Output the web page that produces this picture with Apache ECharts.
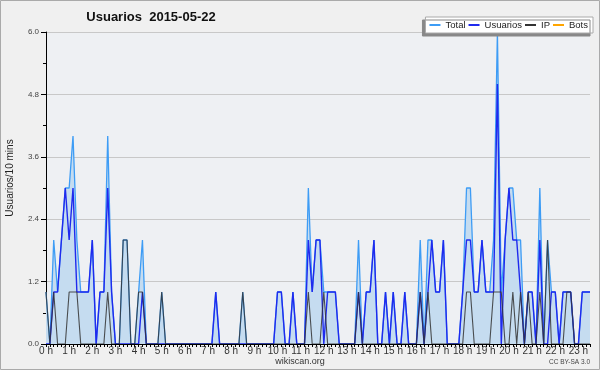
<!DOCTYPE html>
<html>
<head>
<meta charset="utf-8">
<script src="https://cdn.jsdelivr.net/npm/echarts@6/dist/echarts.min.js"></script>
<style>
  html, body { margin: 0; padding: 0; background: #f0f0f0; }
  #chart { width: 600px; height: 370px; }
</style>
</head>
<body>
<div id="chart"></div>
<script>
// libellés des heures (une tranche = 10 min)
const hourLabels = ['0 h','1 h','2 h','3 h','4 h','5 h','6 h','7 h','8 h','9 h','10 h','11 h',
    '12 h','13 h','14 h','15 h','16 h','17 h','18 h','19 h','20 h','21 h','22 h','23 h'];

const total = [
    1,0,2,1,2,3,3,4,2,1,1,1,
    2,0,1,1,4,1,0,0,2,2,0,0,
    1,2,0,0,0,0,1,0,0,0,0,0,
    0,0,0,0,0,0,0,0,1,0,0,0,
    0,0,0,1,0,0,0,0,0,0,0,0,
    1,1,0,0,1,0,0,0,3,1,2,2,
    1,1,1,1,0,0,0,0,0,2,0,1,
    1,2,0,0,1,0,1,0,0,1,0,0,
    0,2,0,2,2,1,1,2,0,0,0,0,
    1,3,3,1,1,2,1,1,2,6,1,2,
    3,3,2,2,0,1,1,0,3,0,2,1,
    1,0,1,1,1,0,0,1,1,1
];
const usuarios = [
    0,0,1,1,2,3,2,3,1,1,1,1,
    2,0,1,1,3,1,0,0,0,0,0,0,
    0,1,0,0,0,0,0,0,0,0,0,0,
    0,0,0,0,0,0,0,0,1,0,0,0,
    0,0,0,0,0,0,0,0,0,0,0,0,
    1,1,0,0,1,0,0,0,2,1,2,2,
    0,1,1,1,0,0,0,0,0,1,0,1,
    1,2,0,0,1,0,1,0,0,1,0,0,
    0,1,0,1,2,1,1,2,0,0,0,0,
    1,2,2,1,1,2,1,1,1,5,0,2,
    3,2,2,1,0,1,1,0,2,0,0,1,
    1,0,1,1,1,0,0,1,1,1
];
const ip = [
    1,0,1,0,0,0,1,1,1,0,0,0,
    0,0,0,0,1,0,0,0,2,2,0,0,
    1,1,0,0,0,0,1,0,0,0,0,0,
    0,0,0,0,0,0,0,0,0,0,0,0,
    0,0,0,1,0,0,0,0,0,0,0,0,
    0,0,0,0,0,0,0,0,1,0,0,0,
    1,0,0,0,0,0,0,0,0,1,0,0,
    0,0,0,0,0,0,0,0,0,0,0,0,
    0,1,0,1,0,0,0,0,0,0,0,0,
    0,1,1,0,0,0,0,0,1,1,1,0,
    0,1,0,1,0,1,0,0,1,0,2,0,
    0,0,0,1,1,0,0,0,0,0
];
const bots = [];

// tranches de 10 minutes
const slots = [];
for (let h = 0; h < 24; h++) {
    for (let m = 0; m < 6; m++) {
        slots.push(h + ':' + m + '0');
    }
}
const categories = slots.slice(0, total.length);

const FONT = 'Liberation Sans';

const option = {
    backgroundColor: '#f0f0f0',
    animation: false,
    grid: {
        left: 46,
        right: 10,
        top: 32,
        bottom: 26,
        show: true,
        backgroundColor: '#eef0f3',
        borderWidth: 0,
        outerBoundsMode: 'none'
    },
    legend: {
        right: 7,
        top: 17,
        padding: [2, 5, 2, 4],
        itemGap: 3,
        itemWidth: 11,
        itemHeight: 2,
        icon: 'rect',
        backgroundColor: '#fff',
        borderColor: '#aaa',
        borderWidth: 1,
        shadowColor: '#888',
        shadowBlur: 0,
        shadowOffsetX: -3,
        shadowOffsetY: 3,
        textStyle: {
            fontFamily: FONT,
            fontSize: 9.5,
            lineHeight: 12,
            color: '#222',
            padding: [0, 0, 0, 0]
        },
        data: ['Total', 'Usuarios', 'IP', 'Bots']
    },
    xAxis: {
        type: 'category',
        boundaryGap: false,
        data: categories,
        z: 5,
        axisLine: {
            lineStyle: { color: '#000', width: 1 }
        },
        axisTick: {
            interval: 0,
            length: 3,
            lineStyle: { color: '#000' }
        },
        axisLabel: {
            interval: 5,
            margin: 2,
            fontFamily: FONT,
            fontSize: 10,
            color: '#333',
            formatter: function (v, idx) {
                return hourLabels[idx / 6];
            }
        },
        splitLine: { show: false }
    },
    yAxis: {
        type: 'value',
        min: 0,
        max: 6,
        interval: 1.2,
        axisLine: {
            show: true,
            lineStyle: { color: '#000', width: 1 }
        },
        axisTick: {
            show: true,
            length: 5,
            lineStyle: { color: '#000' }
        },
        minorTick: {
            show: true,
            splitNumber: 2,
            length: 3,
            lineStyle: { color: '#000' }
        },
        axisLabel: {
            margin: 7,
            fontFamily: FONT,
            fontSize: 8,
            color: '#444',
            formatter: function (v) { return v.toFixed(1); }
        },
        splitLine: {
            lineStyle: { color: '#c8c8c8', width: 1 }
        }
    },
    series: [
        {
            name: 'Total',
            type: 'line',
            data: total,
            symbol: 'none',
            color: '#3d9cf5',
            lineStyle: { width: 1.3, color: '#3d9cf5' },
            areaStyle: { color: '#c5dcf0', opacity: 1 }
        },
        {
            name: 'Usuarios',
            type: 'line',
            data: usuarios,
            symbol: 'none',
            color: '#1f2aee',
            lineStyle: { width: 1.4, color: '#1f2aee' }
        },
        {
            name: 'IP',
            type: 'line',
            data: ip,
            symbol: 'none',
            color: '#333',
            lineStyle: { width: 1.1, color: '#333', opacity: 0.85 }
        },
        {
            name: 'Bots',
            type: 'line',
            data: bots,
            symbol: 'none',
            color: '#ffa500',
            lineStyle: { width: 1.2, color: '#ffa500' }
        }
    ],
    graphic: [
        {
            type: 'text',
            x: 151, y: 17,
            style: {
                text: 'Usuarios  2015-05-22',
                font: 'bold 13px "Liberation Sans"',
                fill: '#111',
                align: 'center', verticalAlign: 'middle',
                textAlign: 'center', textVerticalAlign: 'middle'
            }
        },
        {
            type: 'text',
            x: 10, y: 178,
            rotation: Math.PI / 2,
            style: {
                text: 'Usuarios/10 mins',
                font: '10px "Liberation Sans"',
                fill: '#222',
                align: 'center', verticalAlign: 'middle',
                textAlign: 'center', textVerticalAlign: 'middle'
            }
        },
        {
            type: 'text',
            x: 300, y: 361.5,
            style: {
                text: 'wikiscan.org',
                font: '9px "Liberation Sans"',
                fill: '#333',
                align: 'center', verticalAlign: 'middle',
                textAlign: 'center', textVerticalAlign: 'middle'
            }
        },
        {
            type: 'text',
            x: 590, y: 362,
            style: {
                text: 'CC BY-SA 3.0',
                font: '6.5px "Liberation Sans"',
                fill: '#444',
                align: 'right', verticalAlign: 'middle',
                textAlign: 'right', textVerticalAlign: 'middle'
            }
        },
        {
            type: 'rect',
            silent: true,
            z: 100,
            shape: { x: 0.5, y: 0.5, width: 599, height: 369 },
            style: { fill: 'none', stroke: '#aaa', lineWidth: 1 }
        }
    ]
};

const chart = echarts.init(document.getElementById('chart'));
chart.setOption(option);
</script>
</body>
</html>
